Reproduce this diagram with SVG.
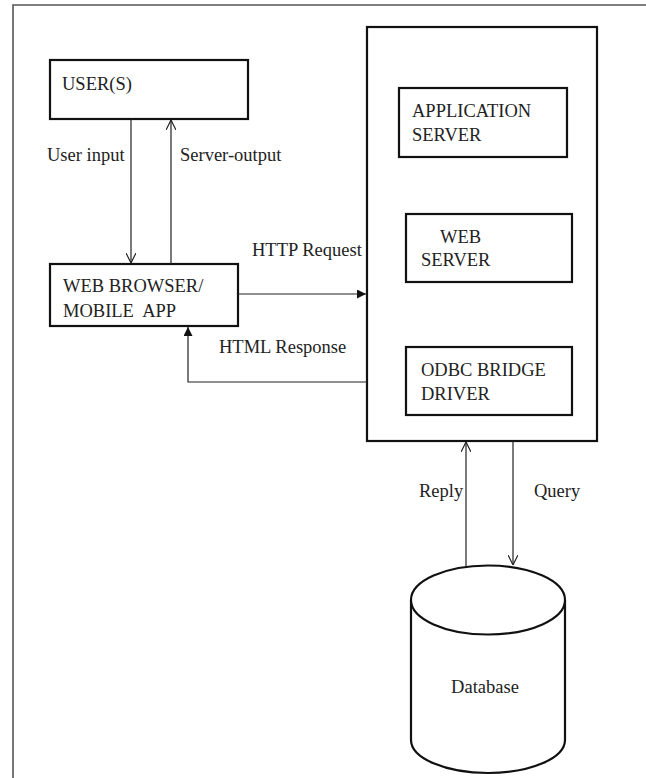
<svg xmlns="http://www.w3.org/2000/svg" width="646" height="778" viewBox="0 0 646 778" font-family="Liberation Serif, Times New Roman, Times, serif" font-size="18.5">
<style>
.box{fill:#fff;stroke:#111;stroke-width:2.2}
.frame{fill:none;stroke:#555;stroke-width:1.6}
.con{fill:none;stroke:#222;stroke-width:1.2}
text{fill:#222}
</style>
<defs>
<marker id="open" viewBox="0 0 10 10" refX="10" refY="5" markerWidth="10" markerHeight="10" markerUnits="userSpaceOnUse" orient="auto">
<path d="M0,0 L10,5 L0,10" fill="none" stroke="#222" stroke-width="1.2"/>
</marker>
<marker id="solid" viewBox="0 0 10 10" refX="10" refY="5" markerWidth="10" markerHeight="9" markerUnits="userSpaceOnUse" orient="auto">
<path d="M0,0 L10,5 L0,10 Z" fill="#111"/>
</marker>
</defs>
<rect width="646" height="778" fill="#fff"/>
<path class="frame" d="M13,778 V5 H646"/>

<g id="users">
<rect class="box" x="50" y="60" width="198" height="59"/>
<text x="62" y="90">USER(S)</text>
</g>
<g id="browser">
<rect class="box" x="50" y="264" width="188" height="62"/>
<text x="63" y="292">WEB BROWSER/</text>
<text x="63" y="317">MOBILE&#160; APP</text>
</g>
<g id="server">
<rect class="box" x="367" y="27" width="230" height="414"/>
</g>
<g id="appserver">
<rect class="box" x="399" y="88" width="168" height="69"/>
<text x="412" y="117">APPLICATION</text>
<text x="412" y="141">SERVER</text>
</g>
<g id="webserver">
<rect class="box" x="406" y="214" width="166" height="68"/>
<text x="440" y="243">WEB</text>
<text x="421" y="266">SERVER</text>
</g>
<g id="odbc">
<rect class="box" x="406" y="347" width="166" height="68"/>
<text x="421" y="376">ODBC BRIDGE</text>
<text x="421" y="400">DRIVER</text>
</g>
<g id="database">
<path class="box" d="M411,600 V740 A77,33 0 0 0 565,740 V600"/>
<ellipse class="box" cx="488" cy="600" rx="77" ry="34.5"/>
<text x="485" y="693" text-anchor="middle">Database</text>
</g>

<g id="connectors">
<line class="con" x1="131" y1="119" x2="131" y2="263" marker-end="url(#open)"/>
<line class="con" x1="171" y1="264" x2="171" y2="120" marker-end="url(#open)"/>
<line class="con" x1="238" y1="294" x2="366" y2="294" marker-end="url(#solid)"/>
<polyline class="con" points="367,382 188,382 188,327" marker-end="url(#solid)"/>
<line class="con" x1="466" y1="566" x2="466" y2="442" marker-end="url(#open)"/>
<line class="con" x1="513" y1="441" x2="513" y2="565" marker-end="url(#open)"/>
</g>

<g id="labels">
<text x="47" y="161">User input</text>
<text x="180" y="161">Server-output</text>
<text x="252" y="256">HTTP Request</text>
<text x="219" y="353">HTML Response</text>
<text x="419" y="497">Reply</text>
<text x="534" y="497">Query</text>
</g>
</svg>
